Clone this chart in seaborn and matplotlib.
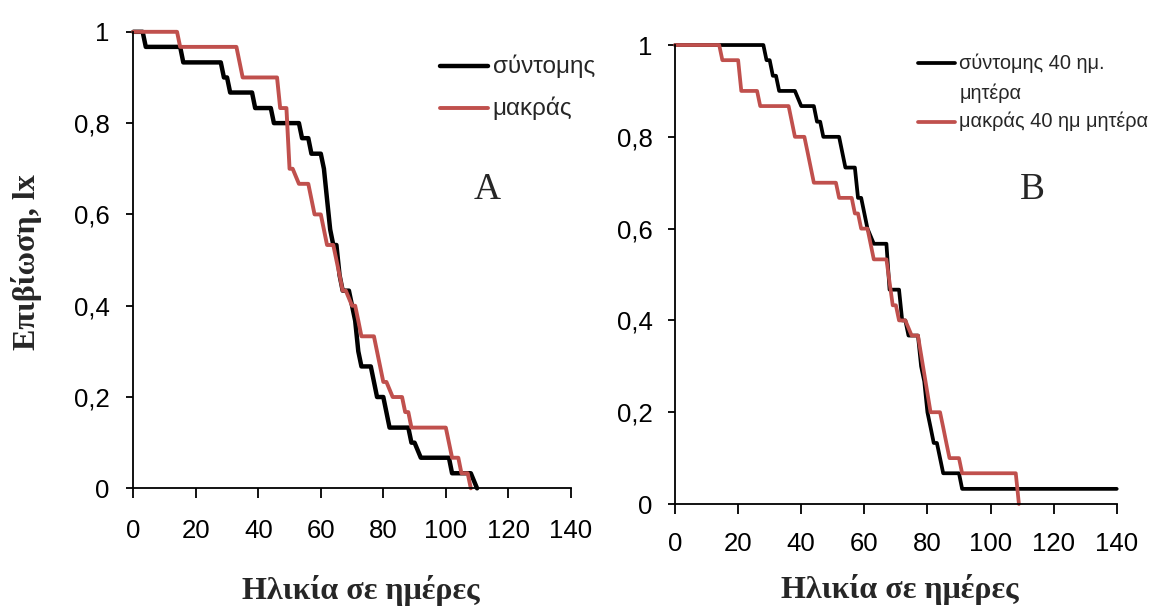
import matplotlib
matplotlib.use("Agg")
import matplotlib.pyplot as plt
import seaborn as sns

# Survival curves (lx), day vs proportion alive
# Panel A
a_short_day = [0, 3, 4, 15, 16, 28, 29, 30, 31, 38, 39, 44, 45, 53, 54, 56, 57, 60, 61, 62, 63, 64,
               65, 66, 67, 69, 70, 71, 72, 73, 76, 78, 80, 82, 88, 89, 90, 92, 101, 102, 108, 110]
a_short_lx = [1, 1, .967, .967, .933, .933, .9, .9, .867, .867, .833, .833, .8, .8, .767, .767, .733, .733,
              .7, .633, .567, .533, .533, .467, .433, .433, .4, .367, .3, .267, .267, .2, .2, .133, .133,
              .1, .1, .067, .067, .033, .033, 0]
a_long_day = [0, 14, 15, 33, 35, 46, 47, 49, 50, 51, 53, 56, 58, 60, 62, 64, 65, 66, 67, 68, 70, 71,
              72, 73, 77, 80, 81, 83, 86, 87, 88, 89, 100, 102, 104, 105, 107, 108]
a_long_lx = [1, 1, .967, .967, .9, .9, .833, .833, .7, .7, .667, .667, .6, .6, .533, .533, .5, .467,
             .433, .433, .4, .4, .367, .333, .333, .233, .233, .2, .2, .167, .167, .133, .133, .067,
             .067, .033, .033, 0]

# Panel B
b_short_day = [0, 28, 29, 30, 31, 32, 33, 38, 40, 44, 45, 46, 47, 52, 54, 57, 58, 59, 61, 63, 67, 68,
               71, 72, 73, 74, 77, 78, 79, 80, 81, 82, 83, 85, 90, 91, 140]
b_short_lx = [1, 1, .967, .967, .933, .933, .9, .9, .867, .867, .833, .833, .8, .8, .733, .733, .667,
              .667, .6, .567, .567, .467, .467, .4, .4, .367, .367, .3, .267, .2, .167, .133, .133,
              .067, .067, .033, .033]
b_long_day = [0, 14, 15, 20, 21, 26, 27, 36, 38, 41, 42, 44, 51, 52, 56, 57, 58, 59, 61, 63, 67, 69,
              70, 71, 73, 75, 77, 81, 84, 85, 86, 87, 90, 91, 108, 109]
b_long_lx = [1, 1, .967, .967, .9, .9, .867, .867, .8, .8, .767, .7, .7, .667, .667, .633, .633, .6,
             .6, .533, .533, .433, .433, .4, .4, .367, .367, .2, .2, .167, .133, .1, .1, .067, .067, 0]

x_ticks = [0, 20, 40, 60, 80, 100, 120, 140]
y_ticks = [0, 0.2, 0.4, 0.6, 0.8, 1]
y_tick_labels = ["0", "0,2", "0,4", "0,6", "0,8", "1"]

RED = "#C0504D"
BLACK = "#000000"

sns.set_style("ticks")
plt.rcParams["font.family"] = ["Liberation Sans", "DejaVu Sans"]

fig = plt.figure(figsize=(11.49, 6.06), dpi=100)
ax_a = fig.add_axes([0.116, 0.1942, 0.3808, 0.7533])
ax_b = fig.add_axes([0.5875, 0.1683, 0.3844, 0.7574])

sns.lineplot(x=a_short_day, y=a_short_lx, ax=ax_a, color=BLACK, linewidth=3.2,
             estimator=None, sort=False, clip_on=False)
sns.lineplot(x=a_long_day, y=a_long_lx, ax=ax_a, color=RED, linewidth=2.8,
             estimator=None, sort=False, clip_on=False)
sns.lineplot(x=b_short_day, y=b_short_lx, ax=ax_b, color=BLACK, linewidth=2.7,
             estimator=None, sort=False, clip_on=False)
sns.lineplot(x=b_long_day, y=b_long_lx, ax=ax_b, color=RED, linewidth=2.7,
             estimator=None, sort=False, clip_on=False)


def style_axis(ax, xpad, ypad):
    ax.set_xlim(0, 140)
    ax.set_ylim(0, 1)
    ax.set_xticks(x_ticks)
    ax.set_yticks(y_ticks)
    ax.set_yticklabels(y_tick_labels)
    sns.despine(ax=ax)
    for s in ["left", "bottom"]:
        ax.spines[s].set_linewidth(1.3)
        ax.spines[s].set_color("black")
    ax.tick_params(axis="x", direction="out", length=7, width=1.3, pad=xpad,
                   labelsize=18.5, colors="black")
    ax.tick_params(axis="y", direction="out", length=5, width=1.3, pad=ypad,
                   labelsize=18.5, colors="black")
    ax.set_xlabel("")
    ax.set_ylabel("")


style_axis(ax_a, 15, 12)
style_axis(ax_b, 13, 11)

# hand-placed legends, as in the original
def legend_entry(ax, x0, x1, y, color, lw, text, size):
    ax.plot([x0, x1], [y, y], transform=ax.transAxes, color=color, lw=lw, clip_on=False)
    ax.text(x1 + 0.01, y, text, transform=ax.transAxes, fontsize=size, va="center", ha="left")


legend_entry(ax_a, 0.701, 0.811, 0.925, BLACK, 3.2, "σύντομης", 17.5)
legend_entry(ax_a, 0.701, 0.811, 0.833, RED, 2.8, "μακράς", 17.5)

legend_entry(ax_b, 0.550, 0.634, 0.961, BLACK, 2.7, "σύντομης 40 ημ.", 14.4)
ax_b.text(0.645, 0.895, "μητέρα", transform=ax_b.transAxes, fontsize=14.4, va="center", ha="left")
legend_entry(ax_b, 0.550, 0.634, 0.833, RED, 2.7, "μακράς 40 ημ μητέρα", 14.4)

serif = ["Liberation Serif", "DejaVu Serif"]
ax_a.text(0.808, 0.653, "A", transform=ax_a.transAxes, fontsize=27, family=serif,
          ha="center", va="center")
ax_b.text(0.808, 0.684, "B", transform=ax_b.transAxes, fontsize=27, family=serif,
          ha="center", va="center")

ax_a.text(-0.243, 0.496, "Επιβίωση, lx", transform=ax_a.transAxes, fontsize=23,
          family=serif, weight="bold", rotation=90, ha="center", va="center")
ax_a.text(0.52, -0.223, "Ηλικία σε ημέρες", transform=ax_a.transAxes, fontsize=23,
          family=serif, weight="bold", ha="center", va="center")
ax_b.text(0.51, -0.187, "Ηλικία σε ημέρες", transform=ax_b.transAxes, fontsize=23,
          family=serif, weight="bold", ha="center", va="center")

fig.savefig("out.png", dpi=100, facecolor="white")
